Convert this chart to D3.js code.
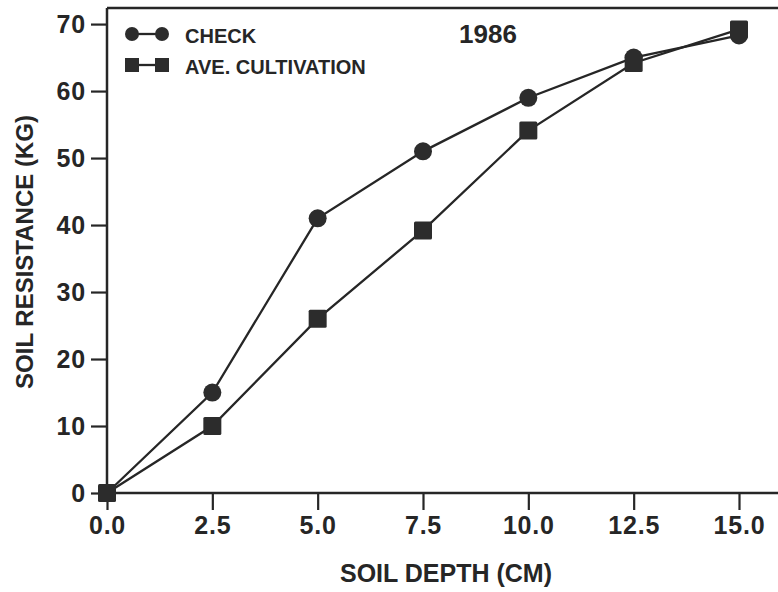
<!DOCTYPE html>
<html>
<head>
<meta charset="utf-8">
<script src="https://cdn.jsdelivr.net/npm/d3@7"></script>
<style>
  body { margin: 0; background: #fff; }
  svg { display: block; }
  text { font-family: "Liberation Sans", Arial, sans-serif; font-weight: bold; fill: #262626; }
</style>
</head>
<body>
<svg width="778" height="592"></svg>
<script>
// soil resistance vs depth, 1986
var depths = [0, 2.5, 5.0, 7.5, 10.0, 12.5, 15.0];
var check = [0, 15, 41, 51, 59, 65, 68.3];
var aveCultivation = [0, 10, 26, 39.2, 54.1, 64.2, 69.2];
var xTicks = [0, 2.5, 5, 7.5, 10, 12.5, 15];
var yTicks = [0, 10, 20, 30, 40, 50, 60, 70];

var svg = d3.select("svg"),
    width = +svg.attr("width"),
    height = +svg.attr("height"),
    ink = "#262626";

var x = d3.scaleLinear().domain([0, 15]).range([107, 739]);
var y = d3.scaleLinear().domain([0, 72.4]).range([493, 8]);

// frame: top edge runs off the right side of the picture
svg.append("line")
    .attr("x1", x(0)).attr("x2", width)
    .attr("y1", y(72.4)).attr("y2", y(72.4))
    .attr("stroke", ink).attr("stroke-width", 2.5);

var xAxis = svg.append("g")
    .attr("transform", "translate(0," + y(0) + ")")
    .call(d3.axisBottom(x).tickValues(xTicks).tickSize(17).tickPadding(6)
      .tickFormat(d3.format(".1f")));

var yAxis = svg.append("g")
    .attr("transform", "translate(" + x(0) + ",0)")
    .call(d3.axisLeft(y).tickValues(yTicks).tickSize(16).tickPadding(5));

[xAxis, yAxis].forEach(function(a) {
  a.select(".domain").remove();
  a.selectAll(".tick line").attr("stroke", ink).attr("stroke-width", 2.2);
  a.selectAll(".tick text").style("font-size", "25px").style("letter-spacing", "0.8px").attr("fill", ink);
});

// axis lines drawn by hand so they reach the picture edge
svg.append("line")
    .attr("x1", x(0)).attr("x2", width)
    .attr("y1", y(0)).attr("y2", y(0))
    .attr("stroke", ink).attr("stroke-width", 2.5);
svg.append("line")
    .attr("x1", x(0)).attr("x2", x(0))
    .attr("y1", y(72.4)).attr("y2", y(0))
    .attr("stroke", ink).attr("stroke-width", 2.5);

var line = d3.line()
    .x(function(d) { return x(d[0]); })
    .y(function(d) { return y(d[1]); });

var checkPts = depths.map(function(d, i) { return [d, check[i]]; });
var cultPts = depths.map(function(d, i) { return [d, aveCultivation[i]]; });

svg.append("path").datum(checkPts)
    .attr("d", line).attr("fill", "none")
    .attr("stroke", ink).attr("stroke-width", 2.3);
svg.append("path").datum(cultPts)
    .attr("d", line).attr("fill", "none")
    .attr("stroke", ink).attr("stroke-width", 2.3);

svg.selectAll(".check").data(checkPts)
  .enter().append("circle")
    .attr("class", "check")
    .attr("cx", function(d) { return x(d[0]); })
    .attr("cy", function(d) { return y(d[1]); })
    .attr("r", 9)
    .attr("fill", "#2c2c2c");

svg.selectAll(".cult").data(cultPts)
  .enter().append("rect")
    .attr("class", "cult")
    .attr("x", function(d) { return x(d[0]) - 9; })
    .attr("y", function(d) { return y(d[1]) - 9; })
    .attr("width", 18).attr("height", 18)
    .attr("rx", 1.5)
    .attr("fill", "#2c2c2c");

// legend
var legend = svg.append("g");
legend.append("line").attr("x1", 132).attr("x2", 162).attr("y1", 34).attr("y2", 34)
    .attr("stroke", ink).attr("stroke-width", 2.3);
legend.append("circle").attr("cx", 132).attr("cy", 34).attr("r", 7).attr("fill", "#2c2c2c");
legend.append("circle").attr("cx", 162).attr("cy", 34).attr("r", 7).attr("fill", "#2c2c2c");
legend.append("text").attr("x", 185).attr("y", 43).style("font-size", "20px").text("CHECK");

legend.append("line").attr("x1", 132).attr("x2", 162).attr("y1", 65).attr("y2", 65)
    .attr("stroke", ink).attr("stroke-width", 2.3);
legend.append("rect").attr("x", 125).attr("y", 58).attr("width", 14).attr("height", 14).attr("fill", "#2c2c2c");
legend.append("rect").attr("x", 155).attr("y", 58).attr("width", 14).attr("height", 14).attr("fill", "#2c2c2c");
legend.append("text").attr("x", 185).attr("y", 74).style("font-size", "20px").text("AVE. CULTIVATION");

svg.append("text").attr("x", 488).attr("y", 43)
    .attr("text-anchor", "middle").style("font-size", "26px").text("1986");

// axis titles
svg.append("text")
    .attr("x", 446).attr("y", 582)
    .attr("text-anchor", "middle").style("font-size", "25px")
    .text("SOIL DEPTH (CM)");

svg.append("text")
    .attr("transform", "translate(33,252) rotate(-90)")
    .attr("text-anchor", "middle").style("font-size", "24px")
    .text("SOIL RESISTANCE (KG)");
</script>
</body>
</html>
